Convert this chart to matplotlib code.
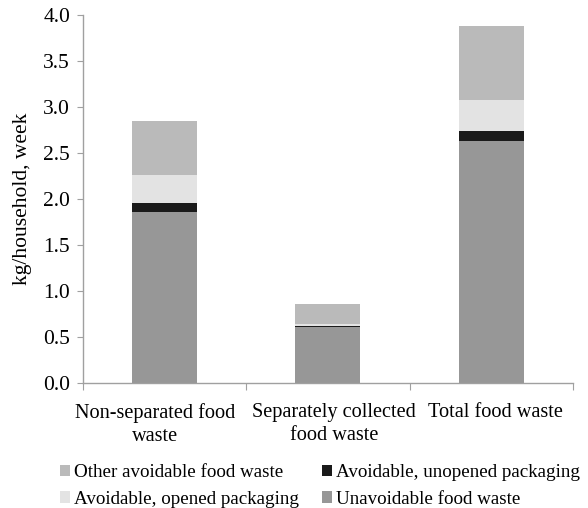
import matplotlib
matplotlib.use("Agg")
import matplotlib.pyplot as plt
import matplotlib.transforms as mtransforms
import numpy as np

plt.rcParams['font.family'] = ['Liberation Serif', 'DejaVu Serif']

categories = ["Non-separated food\nwaste", "Separately collected\nfood waste", "Total food waste"]
unavoidable = [1.86, 0.60, 2.63]
unopened = [0.09, 0.01, 0.105]
opened = [0.31, 0.025, 0.335]
other = [0.59, 0.215, 0.81]

series = [
    ("Unavoidable food waste", unavoidable, "#979797"),
    ("Avoidable, unopened packaging", unopened, "#1a1a1a"),
    ("Avoidable, opened packaging", opened, "#e3e3e3"),
    ("Other avoidable food waste", other, "#bababa"),
]

fig = plt.figure(figsize=(5.88, 5.08), dpi=100)
ax = fig.add_axes([82.5 / 588, 1 - 382.5 / 508, (573 - 82.5) / 588, (382.5 - 15) / 508])

x = np.arange(len(categories))
bottom = np.zeros(len(categories))
handles = {}
for name, vals, color in series:
    b = ax.bar(x, vals, width=0.4, bottom=bottom, color=color, edgecolor="none", label=name)
    handles[name] = b
    bottom += np.array(vals)

ax.set_xlim(-0.5, 2.5)
ax.set_ylim(0, 4.0)
yt = np.arange(0, 4.01, 0.5)
ax.set_yticks(yt)
ax.set_yticklabels([f"{v:.1f}" for v in yt])
ax.set_xticks([-0.5, 0.5, 1.5, 2.5])
ax.set_xticklabels([])
ax.set_xticks(x, minor=True)
ax.set_xticklabels(categories, minor=True, linespacing=1.25)
ax.tick_params(axis="x", which="minor", length=0, pad=15, labelsize=14.6)
ax.tick_params(axis="x", which="major", direction="out", length=5, color="#a0a0a0")
ax.tick_params(axis="y", direction="out", length=4, color="#a0a0a0", labelsize=15.5, pad=5)
for s in ["top", "right"]:
    ax.spines[s].set_visible(False)
for s in ["left", "bottom"]:
    ax.spines[s].set_color("#a0a0a0")
    ax.spines[s].set_linewidth(1.0)

# category labels sit slightly off the bar centres, as wrapped text does
for lbl, dx in zip(ax.get_xticklabels(minor=True), [-9, 6, 4]):
    lbl.set_transform(lbl.get_transform() + mtransforms.ScaledTranslation(dx / 100, 0, fig.dpi_scale_trans))

ax.set_ylabel("kg/household, week", fontsize=15.5, labelpad=8)

order = ["Other avoidable food waste", "Avoidable, opened packaging",
         "Avoidable, unopened packaging", "Unavoidable food waste"]
fig.legend([handles[n] for n in order], order, loc="center",
           bbox_to_anchor=(320 / 588, 1 - 486 / 508), ncol=2, frameon=False, fontsize=13.7,
           handlelength=0.55, handleheight=0.55, handletextpad=0.2,
           columnspacing=1.2, labelspacing=0.5, borderaxespad=0, borderpad=0)

fig.savefig("out.png", dpi=100)
